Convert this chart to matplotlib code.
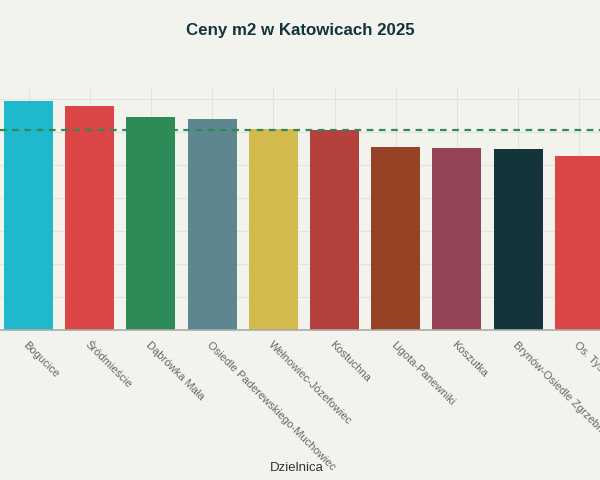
import numpy as np
import matplotlib
matplotlib.use('Agg')
import matplotlib.pyplot as plt

# districts and price per m2 (zl)
districts = ['Bogucice', 'Śródmieście', 'Dąbrówka Mała',
             'Osiedle Paderewskiego-Muchowiec', 'Wełnowiec-Józefowiec',
             'Kostuchna', 'Ligota-Panewniki', 'Koszutka',
             'Brynów-Osiedle Zgrzebnioka', 'Os. Tysiąclecia']
prices = [13900, 13550, 12900, 12800, 12200, 12100, 11100, 11000, 10950, 10550]
colors = ['#1FB8CD', '#DB4545', '#2E8B57', '#5D878F', '#D2BA4C',
          '#B4413C', '#964325', '#944454', '#13343B', '#DB4545']
avg_price = np.mean(prices)

bg = '#F3F3EE'
plt.rcParams['font.family'] = ['Liberation Sans', 'DejaVu Sans']

fig = plt.figure(figsize=(6, 4.8), dpi=100, facecolor=bg)
# plot area runs off the left/right edges like the reference crop
ax = fig.add_axes([0.0, 0.3125, 1.0, 0.5042])
ax.set_facecolor(bg)

x = np.arange(len(districts))
ax.bar(x, prices, width=0.8, color=colors, zorder=2)
ax.axhline(avg_price, color='#2E8B57', linestyle=(0, (3, 2.5)), linewidth=1.6, zorder=3)

ax.set_xlim(-28.5 / 61.2, (600 - 28.5) / 61.2)
ax.set_ylim(0, 14665)
ax.set_yticks(np.arange(0, 14001, 2000))
ax.yaxis.set_ticklabels([])
ax.tick_params(axis='y', length=0)
ax.grid(True, color='#E2E2DE', linewidth=0.8, zorder=0)

ax.set_xticks(x)
ax.set_xticklabels(districts, rotation=-45, ha='left', va='top',
                   rotation_mode='anchor', fontsize=8, color='#666666')
ax.tick_params(axis='x', length=0, pad=7)

for side in ['left', 'right', 'top']:
    ax.spines[side].set_visible(False)
ax.spines['bottom'].set_color('#AAAAAA')
ax.spines['bottom'].set_linewidth(1.2)

fig.text(0.5, 0.937, 'Ceny m2 w Katowicach 2025', ha='center', va='center',
         fontsize=12.2, fontweight='bold', color='#13343B')
fig.text(0.495, 0.025, 'Dzielnica', ha='center', va='center',
         fontsize=9.5, color='#333333')

fig.savefig('out.png', dpi=100, facecolor=bg)
